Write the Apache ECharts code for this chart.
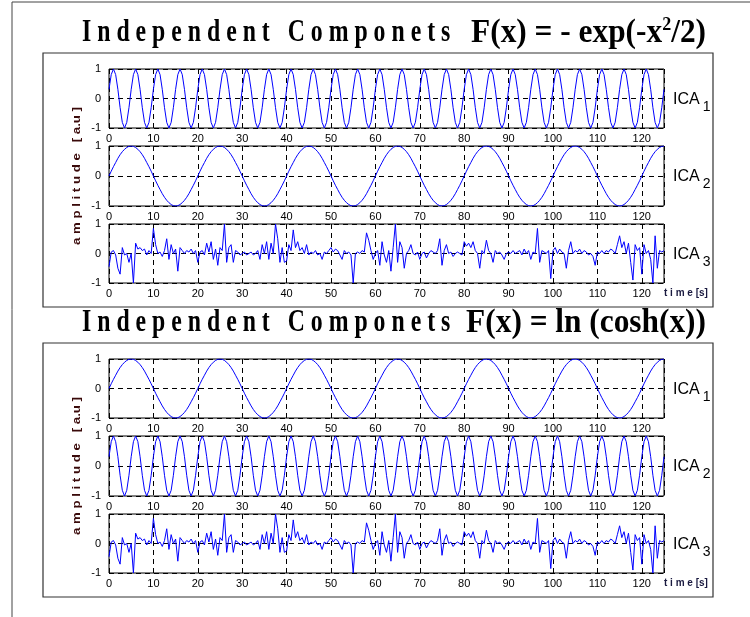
<!DOCTYPE html>
<html>
<head>
<meta charset="utf-8">
<script src="https://cdn.jsdelivr.net/npm/echarts@6/dist/echarts.min.js"></script>
<style>html,body{margin:0;padding:0;background:#fff;}#chart{width:750px;height:617px;}</style>
</head>
<body>
<div id="chart"></div>
<script>
// ---- data ----
const sampleStep = 0.5; // seconds between samples
const xTickLabels = ['0','10','20','30','40','50','60','70','80','90','100','110','120'];
const yTickLabels = ['-1','0','1'];
const titleTop = 'Independent Componets';
const formulaTop = ['F(x) = - exp(-x', '2', '/2)'];
const formulaBottom = 'F(x) = ln (cosh(x))';
const componentNames = ['ICA', 'ICA', 'ICA'];
const componentIndex = ['1', '2', '3'];
const yAxisName = 'a m p l i t u d e   [ a.u ]';
const xAxisName = 't i m e [s]';

const fastWave = [
0.31,0.81,1,0.81,0.31,-0.31,-0.81,-1,-0.81,-0.31,0.31,0.81,1,0.81,0.31,-0.31,-0.81,-1,-0.81,-0.31,
0.31,0.81,1,0.81,0.31,-0.31,-0.81,-1,-0.81,-0.31,0.31,0.81,1,0.81,0.31,-0.31,-0.81,-1,-0.81,-0.31,
0.31,0.81,1,0.81,0.31,-0.31,-0.81,-1,-0.81,-0.31,0.31,0.81,1,0.81,0.31,-0.31,-0.81,-1,-0.81,-0.31,
0.31,0.81,1,0.81,0.31,-0.31,-0.81,-1,-0.81,-0.31,0.31,0.81,1,0.81,0.31,-0.31,-0.81,-1,-0.81,-0.31,
0.31,0.81,1,0.81,0.31,-0.31,-0.81,-1,-0.81,-0.31,0.31,0.81,1,0.81,0.31,-0.31,-0.81,-1,-0.81,-0.31,
0.31,0.81,1,0.81,0.31,-0.31,-0.81,-1,-0.81,-0.31,0.31,0.81,1,0.81,0.31,-0.31,-0.81,-1,-0.81,-0.31,
0.31,0.81,1,0.81,0.31,-0.31,-0.81,-1,-0.81,-0.31,0.31,0.81,1,0.81,0.31,-0.31,-0.81,-1,-0.81,-0.31,
0.31,0.81,1,0.81,0.31,-0.31,-0.81,-1,-0.81,-0.31,0.31,0.81,1,0.81,0.31,-0.31,-0.81,-1,-0.81,-0.31,
0.31,0.81,1,0.81,0.31,-0.31,-0.81,-1,-0.81,-0.31,0.31,0.81,1,0.81,0.31,-0.31,-0.81,-1,-0.81,-0.31,
0.31,0.81,1,0.81,0.31,-0.31,-0.81,-1,-0.81,-0.31,0.31,0.81,1,0.81,0.31,-0.31,-0.81,-1,-0.81,-0.31,
0.31,0.81,1,0.81,0.31,-0.31,-0.81,-1,-0.81,-0.31,0.31,0.81,1,0.81,0.31,-0.31,-0.81,-1,-0.81,-0.31,
0.31,0.81,1,0.81,0.31,-0.31,-0.81,-1,-0.81,-0.31,0.31,0.81,1,0.81,0.31,-0.31,-0.81,-1,-0.81,-0.31,
0.31,0.81,1,0.81,0.31,-0.31,-0.81,-1,-0.81,-0.31,
0.31];

const slowWave = [
0,0.16,0.31,0.45,0.59,0.71,0.81,0.89,0.95,0.99,1,0.99,0.95,0.89,0.81,0.71,0.59,0.45,0.31,0.16,0,-0.16,-0.31,-0.45,-0.59,-0.71,-0.81,-0.89,-0.95,-0.99,-1,-0.99,-0.95,-0.89,-0.81,-0.71,-0.59,-0.45,-0.31,-0.16,
0,0.16,0.31,0.45,0.59,0.71,0.81,0.89,0.95,0.99,1,0.99,0.95,0.89,0.81,0.71,0.59,0.45,0.31,0.16,0,-0.16,-0.31,-0.45,-0.59,-0.71,-0.81,-0.89,-0.95,-0.99,-1,-0.99,-0.95,-0.89,-0.81,-0.71,-0.59,-0.45,-0.31,-0.16,
0,0.16,0.31,0.45,0.59,0.71,0.81,0.89,0.95,0.99,1,0.99,0.95,0.89,0.81,0.71,0.59,0.45,0.31,0.16,0,-0.16,-0.31,-0.45,-0.59,-0.71,-0.81,-0.89,-0.95,-0.99,-1,-0.99,-0.95,-0.89,-0.81,-0.71,-0.59,-0.45,-0.31,-0.16,
0,0.16,0.31,0.45,0.59,0.71,0.81,0.89,0.95,0.99,1,0.99,0.95,0.89,0.81,0.71,0.59,0.45,0.31,0.16,0,-0.16,-0.31,-0.45,-0.59,-0.71,-0.81,-0.89,-0.95,-0.99,-1,-0.99,-0.95,-0.89,-0.81,-0.71,-0.59,-0.45,-0.31,-0.16,
0,0.16,0.31,0.45,0.59,0.71,0.81,0.89,0.95,0.99,1,0.99,0.95,0.89,0.81,0.71,0.59,0.45,0.31,0.16,0,-0.16,-0.31,-0.45,-0.59,-0.71,-0.81,-0.89,-0.95,-0.99,-1,-0.99,-0.95,-0.89,-0.81,-0.71,-0.59,-0.45,-0.31,-0.16,
0,0.16,0.31,0.45,0.59,0.71,0.81,0.89,0.95,0.99,1,0.99,0.95,0.89,0.81,0.71,0.59,0.45,0.31,0.16,0,-0.16,-0.31,-0.45,-0.59,-0.71,-0.81,-0.89,-0.95,-0.99,-1,-0.99,-0.95,-0.89,-0.81,-0.71,-0.59,-0.45,-0.31,-0.16,
0,0.16,0.31,0.45,0.59,0.71,0.81,0.89,0.95,0.99,1];

const noiseComponent = [
-0.45,0.05,0.1,-0.05,-0.5,-0.7,0.2,-0.05,0,-0.3,
0,-1,0.35,0.15,0.2,0.1,0.15,-0.05,0.1,0,
0.85,0.3,0,0.05,-0.1,0.1,0.5,-0.2,0.3,0,
0.15,-0.6,0.2,0.1,0,0.1,0.05,0.15,0,0.1,
-0.3,0.05,0.1,-0.05,0.35,0.05,0.4,-0.2,0.15,-0.4,
0.2,0.1,1,-0.3,0.2,0.3,-0.3,0.1,0.05,-0.05,
0,0.05,-0.05,0,0.05,-0.05,0,0.1,-0.2,0.3,
0,0.4,-0.2,0.35,0,1,0.5,-0.3,0.2,-0.3,
-0.25,0.3,0.1,0.8,0.2,0.4,0.1,0.2,0,0.3,
-0.05,0.05,0,0.1,-0.05,0,-0.2,0.05,0,0.1,
0.2,0.05,0.15,0.1,-0.05,-0.2,0.1,0,0.05,-0.05,
-1,0,0.05,0,0.1,0.05,0.7,0.45,0.1,-0.2,
0,0.1,-0.4,0.4,-0.05,-0.3,0.1,-0.6,0.2,1,
-0.3,0.4,0.2,-0.5,0,0.1,0.3,0,-0.05,0.05,
-0.2,0,0.05,-0.15,0,0.1,0.05,0,0.1,0.5,
-0.4,0.1,0.3,0,0.05,-0.1,0,0.05,0,-0.05,
0.4,0.25,0.35,0.2,0.4,0.1,0,-0.5,0.1,0,
0.45,0.1,0,-0.3,0.1,0,0.05,-0.05,-0.2,0,
0.05,0,0.1,0,0.05,0.1,-0.05,0.15,0,0.1,
-0.2,0.05,0,0.85,-0.3,0.1,0.05,0,0.1,-0.85,
0.1,0.2,0,0.15,0.05,0,-0.5,0.1,0.4,0,
0.1,0.05,0.15,0,0.1,0.05,-0.05,0,-0.1,-0.4,
0.05,0,0.1,0,0.1,0.05,0.15,0.1,0,0.3,
0.6,0.2,0.4,0,0.35,-0.3,-0.9,0.3,0.1,0.2,
-0.7,0.3,0,0.1,-0.2,-1,0.6,-0.5,0.1,0.05,
0.1];

// panels: top figure (F = -exp(-x^2/2)) then bottom figure (F = ln cosh x)
const panelSignals = [fastWave, slowWave, noiseComponent, slowWave, fastWave, noiseComponent];

// ---- layout ----
const W = 750;
const plotLeft = 109, plotRight = 664;
const gridTops = [69, 146, 224, 359, 436, 514];
const gridHeights = [59, 60, 59, 59, 60, 59];
const boxTops = [53, 343];
const boxH = 254, boxLeft = 43, boxRight = 713;

const chart = echarts.init(document.getElementById('chart'), null, {renderer: 'canvas'});

const grids = [], xAxes = [], yAxes = [], series = [];
panelSignals.forEach((sig, i) => {
  grids.push({left: plotLeft, width: plotRight - plotLeft, top: gridTops[i], height: gridHeights[i],
    show: true, borderColor: '#000', borderWidth: 1, backgroundColor: 'transparent'});
  xAxes.push({type: 'value', gridIndex: i, min: 0, max: 125, interval: 10,
    axisLine: {show: false}, axisTick: {show: false},
    axisLabel: {color: '#000', fontSize: 11, fontFamily: 'Liberation Sans, Arial', margin: 5, showMaxLabel: false,
      formatter: v => xTickLabels[Math.round(v / 10)] || ''},
    splitLine: {show: true, lineStyle: {color: '#000', type: [5, 4], width: 1}}});
  yAxes.push({type: 'value', gridIndex: i, min: -1, max: 1, interval: 1,
    axisLine: {show: false}, axisTick: {show: false},
    axisLabel: {color: '#000', fontSize: 11, fontFamily: 'Liberation Sans, Arial', margin: 8,
      formatter: v => yTickLabels[Math.round(v) + 1]},
    splitLine: {show: true, lineStyle: {color: '#000', type: [5, 4], width: 1}}});
  series.push({type: 'line', xAxisIndex: i, yAxisIndex: i, showSymbol: false, symbol: 'none',
    lineStyle: {color: '#0000ff', width: 1}, animation: false, z: 3,
    data: sig.map((v, k) => [k * sampleStep, v])});
});

const graphic = [];
// outer frame edges
graphic.push({type: 'line', shape: {x1: 12, y1: 2, x2: W, y2: 2}, style: {stroke: '#444', lineWidth: 1}});
graphic.push({type: 'line', shape: {x1: 12, y1: 2, x2: 12, y2: 617}, style: {stroke: '#444', lineWidth: 1}});
boxTops.forEach((bt, b) => {
  graphic.push({type: 'rect', shape: {x: boxLeft, y: bt, width: boxRight - boxLeft, height: boxH},
    style: {fill: 'none', stroke: '#333', lineWidth: 1.2}, z: 0});
  // title: letter-spaced words
  graphic.push({type: 'text', x: 82, y: bt - 20, scaleX: 0.85, scaleY: 1.15,
    style: {text: titleTop.split('').join(' '), fontFamily: 'Liberation Serif', fontWeight: 'bold', fontSize: 28,
      fill: '#000', textAlign: 'left', textVerticalAlign: 'middle'}});
  // title: formula
  const fRich = {
    f: {fontFamily: 'Liberation Serif', fontWeight: 'bold', fontSize: 33, fill: '#000'},
    s: {fontFamily: 'Liberation Serif', fontWeight: 'bold', fontSize: 19, fill: '#000', verticalAlign: 'top', padding: [0, 0, 16, 0]}
  };
  const ftxt = b === 0
    ? '{f|' + formulaTop[0] + '}{s|' + formulaTop[1] + '}{f|' + formulaTop[2] + '}'
    : '{f|' + formulaBottom + '}';
  graphic.push({type: 'text', x: 706, y: bt - 20, scaleX: 0.95, scaleY: 1.02,
    style: {text: ftxt, rich: fRich, textAlign: 'right', textVerticalAlign: 'middle'}});
  // y axis name
  graphic.push({type: 'text', x: 77, y: bt + 123, rotation: Math.PI / 2, scaleX: 1.2,
    style: {text: yAxisName, fontFamily: 'Liberation Sans', fontWeight: 'bold', fontSize: 11,
      fill: '#3a0a0a', textAlign: 'center', textVerticalAlign: 'middle'}});
  // x axis name
  graphic.push({type: 'text', x: 664, y: bt + 240,
    style: {text: xAxisName, fontFamily: 'Liberation Sans', fontWeight: 'bold', fontSize: 10,
      fill: '#1a1a40', textAlign: 'left', textVerticalAlign: 'middle'}});
  // component labels
  for (let j = 0; j < 3; j++) {
    const gi = b * 3 + j;
    graphic.push({type: 'text', x: 673, y: gridTops[gi] + gridHeights[gi] / 2 + 1,
      style: {text: '{n|' + componentNames[j] + '}{i|' + componentIndex[j] + '}',
        rich: {n: {fontFamily: 'Liberation Sans', fontSize: 16, fill: '#000'},
               i: {fontFamily: 'Liberation Sans', fontSize: 14, fill: '#000', padding: [15, 0, 0, 3]}},
        textAlign: 'left', textVerticalAlign: 'middle'}});
  }
});

chart.setOption({
  backgroundColor: '#fff',
  animation: false,
  grid: grids, xAxis: xAxes, yAxis: yAxes, series: series,
  graphic: graphic
});
</script>
</body>
</html>
